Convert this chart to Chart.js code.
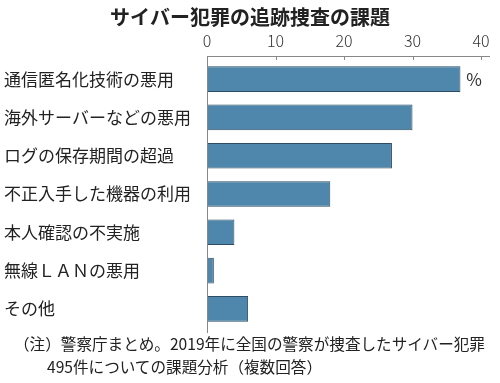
<!DOCTYPE html>
<html>
<head>
<meta charset="utf-8">
<script src="https://cdn.jsdelivr.net/npm/chart.js@4"></script>
<style>
  html, body { margin: 0; padding: 0; background: #fff; }
  #wrap { position: relative; width: 500px; height: 383px; }
  #note {
    position: absolute; left: 14px; top: 332px; width: 486px;
    font-family: "Noto Sans CJK JP", sans-serif; font-size: 15.6px; line-height: 23px;
    color: #222; white-space: nowrap;
  }
  #note span { padding-left: 33px; }
</style>
</head>
<body>
<div id="wrap">
  <canvas id="chart" width="500" height="383"></canvas>
  <div id="note">（注）警察庁まとめ。2019年に全国の警察が捜査したサイバー犯罪<br><span>495件についての課題分析（複数回答）</span></div>
</div>
<script>
// data
const categories = ['通信匿名化技術の悪用', '海外サーバーなどの悪用', 'ログの保存期間の超過', '不正入手した機器の利用', '本人確認の不実施', '無線ＬＡＮの悪用', 'その他'];
const values = [37, 30, 27, 18, 4, 1, 6];
const xTicks = [0, 10, 20, 30, 40];
const unitLabel = '%';
const titleText = 'サイバー犯罪の追跡捜査の課題';

const font = '"Noto Sans CJK JP", sans-serif';

// title, axis lines, inward ticks and the unit label
const axisPlugin = {
  id: 'axisPlugin',
  afterDraw(chart) {
    const ctx = chart.ctx;
    const xs = chart.scales.x;
    const ys = chart.scales.y;
    const top = chart.chartArea.top - 4;
    const x0 = xs.getPixelForValue(0);
    ctx.save();
    ctx.fillStyle = '#222';
    ctx.font = 'bold 20px ' + font;
    ctx.textAlign = 'center';
    ctx.textBaseline = 'middle';
    ctx.fillText(titleText, chart.width / 2, 17);

    ctx.strokeStyle = '#888';
    ctx.lineWidth = 1;
    ctx.beginPath();
    ctx.moveTo(x0, top + 0.5);
    ctx.lineTo(chart.chartArea.right + 9, top + 0.5);
    ctx.moveTo(x0 + 0.5, top);
    ctx.lineTo(x0 + 0.5, chart.chartArea.bottom + 5);
    xTicks.forEach(v => {
      const px = Math.round(xs.getPixelForValue(v)) + 0.5;
      ctx.moveTo(px, top);
      ctx.lineTo(px, top + 4);
    });
    ctx.stroke();
    ctx.fillStyle = '#333';
    ctx.font = '17px ' + font;
    ctx.fillText(unitLabel, xs.getPixelForValue(39), ys.getPixelForValue(0));
    ctx.restore();
  }
};

new Chart(document.getElementById('chart'), {
  type: 'bar',
  data: {
    labels: categories,
    datasets: [{
      data: values,
      backgroundColor: '#4f86ab',
      borderColor: '#2e4c63',
      borderWidth: 1,
      barPercentage: 0.67,
      categoryPercentage: 1
    }]
  },
  options: {
    indexAxis: 'y',
    responsive: false,
    animation: false,
    layout: { padding: { left: 4, right: 19, top: 29, bottom: 55 } },
    plugins: {
      legend: { display: false },
      tooltip: { enabled: false },
      title: { display: false }
    },
    scales: {
      x: {
        position: 'top',
        min: 0,
        max: 40,
        afterBuildTicks: s => { s.ticks = xTicks.map(v => ({ value: v })); },
        afterFit: s => { s.height = 31; },
        grid: { display: false, drawTicks: false },
        border: { display: false },
        ticks: { color: '#333', padding: 9, font: { family: font, size: 16, weight: 300 } }
      },
      y: {
        afterFit: s => { s.width = 203; },
        grid: { display: false, drawTicks: false },
        border: { display: false },
        ticks: { color: '#222', crossAlign: 'far', padding: 16, font: { family: font, size: 17 } }
      }
    }
  },
  plugins: [axisPlugin]
});
</script>
</body>
</html>
